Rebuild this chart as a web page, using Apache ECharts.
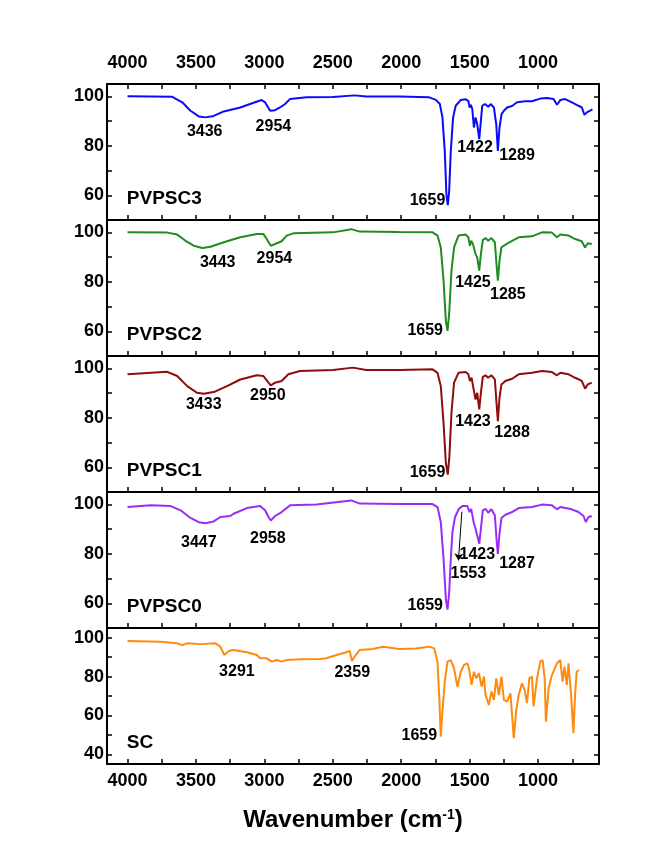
<!DOCTYPE html>
<html>
<head>
<meta charset="utf-8">
<script src="https://cdn.jsdelivr.net/npm/echarts@6/dist/echarts.min.js"></script>
<style>
  html, body { margin: 0; padding: 0; background: #fff; }
  #chart { width: 647px; height: 841px; }
</style>
</head>
<body>
<div id="chart"></div>
<script>
  // spectra, [wavenumber, transmittance %]
  const pvpsc3 = [[4000, 100], [3673, 99.8], [3600, 97.6], [3540, 94.2], [3479, 91.9], [3431, 91.5], [3370, 92.1], [3297, 93.9], [3176, 95.5], [3079, 97.4], [3019, 98.5], [2995, 97.6], [2958, 94.2], [2922, 94.4], [2886, 95.5], [2849, 96.9], [2813, 98.9], [2692, 99.6], [2498, 99.7], [2341, 100.4], [2256, 99.9], [2014, 99.9], [1796, 99.6], [1747, 98.6], [1718, 96.9], [1699, 91.5], [1682, 77.9], [1670, 60.3], [1660, 56], [1650, 61.6], [1638, 77.9], [1621, 91.5], [1602, 96.2], [1566, 98.5], [1529, 98.8], [1510, 98.2], [1500, 95.5], [1491, 96.6], [1481, 94.9], [1469, 87.4], [1457, 91.5], [1445, 88.8], [1430, 82.7], [1418, 90.2], [1408, 96.2], [1389, 96.9], [1364, 95.8], [1347, 96.9], [1323, 95.5], [1306, 88.8], [1294, 77.9], [1282, 87.4], [1267, 92.8], [1250, 94.2], [1226, 95.5], [1190, 96.1], [1154, 97.6], [1093, 98.0], [1045, 98.0], [984, 99.1], [935, 99.3], [887, 98.9], [862, 96.6], [838, 98.5], [802, 98.9], [753, 97.6], [705, 96.2], [680, 95.5], [661, 92.5], [644, 93.5], [620, 94.2], [603, 94.7]]
  const pvpsc2 = [[4000, 100], [3709, 99.9], [3637, 99.1], [3576, 96.6], [3516, 94.6], [3455, 93.7], [3394, 94.2], [3297, 96.0], [3176, 98.0], [3055, 99.3], [3007, 99.3], [2983, 97.3], [2953, 94.6], [2922, 95.3], [2874, 96.4], [2837, 98.7], [2789, 99.6], [2498, 100], [2365, 101.3], [2304, 100.3], [2014, 100.1], [1771, 100], [1735, 98.7], [1711, 93.9], [1691, 80.5], [1674, 64.3], [1662, 60.2], [1650, 67], [1633, 84.5], [1614, 93.9], [1582, 98.7], [1529, 99.1], [1510, 98], [1498, 94.6], [1489, 96.6], [1476, 95.3], [1457, 91.2], [1445, 89.9], [1430, 84.5], [1418, 91.2], [1404, 96.9], [1384, 97.7], [1365, 96.6], [1341, 97.7], [1316, 96], [1304, 87.2], [1294, 80.5], [1282, 88.5], [1268, 93.9], [1239, 95], [1190, 96.6], [1142, 98], [1045, 98.4], [972, 100], [899, 99.9], [862, 98], [838, 99.1], [777, 98.7], [729, 97.3], [681, 96.4], [657, 93.9], [637, 95.6], [608, 95.3]]
  const pvpsc1 = [[4000, 97.6], [3709, 98.6], [3637, 96.9], [3564, 92.8], [3491, 90.1], [3443, 89.7], [3370, 90.4], [3273, 92.8], [3176, 95.5], [3055, 97.2], [3007, 96.9], [2970, 94.2], [2953, 93.1], [2922, 94.2], [2874, 94.9], [2825, 97.6], [2740, 98.9], [2498, 99.3], [2353, 100.3], [2256, 99.3], [2014, 99.3], [1771, 99.6], [1735, 98.2], [1711, 92.8], [1691, 78], [1674, 61.8], [1660, 57], [1648, 64.5], [1633, 82], [1614, 94.2], [1582, 98.2], [1529, 98.5], [1510, 97.6], [1498, 94.9], [1486, 96.2], [1471, 91.5], [1457, 87.4], [1445, 90.1], [1430, 83.4], [1418, 90.1], [1404, 96.6], [1384, 97.2], [1365, 96.2], [1341, 97.2], [1316, 95.5], [1304, 86.1], [1294, 78.6], [1282, 88.1], [1268, 93.5], [1239, 94.9], [1190, 95.8], [1142, 97.6], [1045, 98.2], [972, 98.9], [899, 98.5], [862, 97.2], [838, 98.2], [777, 97.6], [729, 96.2], [681, 94.9], [657, 91.8], [637, 93.5], [608, 94.2]]
  const pvpsc0 = [[4000, 98.9], [3830, 99.6], [3685, 99.3], [3612, 97.6], [3540, 94.5], [3479, 92.8], [3431, 92.4], [3370, 93.1], [3322, 94.9], [3249, 95.3], [3225, 96.2], [3128, 98.5], [3031, 99.3], [2995, 97.6], [2970, 94.9], [2953, 93.5], [2922, 95.3], [2874, 96.9], [2813, 99.6], [2619, 99.9], [2365, 101.6], [2304, 100.3], [2014, 100.1], [1771, 100.1], [1735, 98.9], [1711, 92.8], [1691, 78], [1674, 61.8], [1662, 57.4], [1650, 64.1], [1638, 78], [1626, 88.8], [1607, 94.9], [1590, 96.9], [1578, 98.2], [1553, 99.3], [1517, 99.3], [1500, 96.9], [1489, 98.2], [1471, 92.8], [1457, 90.1], [1445, 90.8], [1430, 84.1], [1418, 90.1], [1404, 97.6], [1384, 98.2], [1365, 96.6], [1341, 98], [1316, 95.5], [1304, 86.1], [1294, 80], [1282, 88.1], [1268, 94.5], [1239, 95.8], [1190, 96.9], [1142, 98.5], [1045, 98.9], [972, 99.9], [899, 99.6], [862, 98], [838, 98.9], [753, 98], [705, 96.9], [668, 95.3], [651, 92.8], [632, 94.9], [608, 95.3]]
  const sc = [[4000, 98.3], [3758, 97.9], [3637, 97.1], [3600, 96.2], [3564, 97.1], [3467, 96.7], [3358, 97.1], [3322, 95.4], [3293, 91.1], [3261, 93.2], [3225, 93.7], [3128, 92.5], [3055, 91.1], [3031, 89.4], [2983, 89.4], [2946, 87.7], [2910, 88.5], [2874, 87.7], [2837, 88.5], [2740, 88.9], [2595, 89.0], [2547, 89.4], [2474, 91.1], [2401, 92.5], [2377, 93.2], [2360, 88.0], [2341, 90.2], [2304, 93.7], [2208, 94.2], [2135, 95.4], [2014, 94.2], [1892, 94.5], [1796, 95.4], [1759, 94.5], [1735, 87.7], [1723, 70.5], [1711, 49.1], [1699, 62], [1682, 77.4], [1662, 87.7], [1638, 88.5], [1614, 84.2], [1590, 74.8], [1565, 82.5], [1541, 86], [1517, 86.8], [1505, 84.2], [1486, 75.7], [1469, 82.5], [1452, 79.1], [1432, 81.7], [1413, 74.8], [1396, 80], [1384, 70.5], [1360, 65.4], [1341, 72.3], [1323, 68], [1306, 79.1], [1287, 70.5], [1268, 80], [1250, 68], [1226, 67.1], [1202, 71.4], [1178, 48.3], [1161, 62], [1142, 70.5], [1118, 76.5], [1099, 73.1], [1081, 66.3], [1064, 79.1], [1045, 80], [1033, 64.6], [1008, 79.1], [984, 87.7], [967, 88.5], [952, 79.1], [943, 56.8], [923, 74], [899, 80.8], [863, 86.8], [838, 88.5], [821, 77.4], [807, 85.1], [790, 75.7], [778, 86.8], [759, 70.5], [742, 50.9], [730, 70.5], [718, 82.5], [701, 83.4]]

  // peak labels: [text, wavenumber, transmittance]
  const peaks3 = [['3436', 3436, 85.6], ['2954', 2934, 87.8], ['1659', 1808, 57.9], ['1422', 1461, 79.3], ['1289', 1154, 75.9]]
  const peaks2 = [['3443', 3341, 87.6], ['2954', 2927, 89.2], ['1659', 1825, 60.2], ['1425', 1476, 79.6], ['1285', 1221, 74.8]]
  const peaks1 = [['3433', 3443, 85.4], ['2950', 2975, 89.1], ['1659', 1808, 57.7], ['1423', 1476, 78.6], ['1288', 1190, 74.2]]
  const peaks0 = [['3447', 3479, 84.5], ['2958', 2975, 86.1], ['1659', 1825, 59], ['1423', 1444, 79.6], ['1553', 1510, 71.9], ['1287', 1154, 76.1]]
  const peaksSc = [['3291', 3201, 82.5], ['2359', 2358, 82.2], ['1659', 1868, 49.7]]
  const arrow0 = [[1557, 97], [1582, 77.3]]

  const sampleNames = ['PVPSC3', 'PVPSC2', 'PVPSC1', 'PVPSC0', 'SC']
  const xTicks = [4000, 3750, 3500, 3250, 3000, 2750, 2500, 2250, 2000, 1750, 1500, 1250, 1000, 750]
  const xLabels = [4000, 3500, 3000, 2500, 2000, 1500, 1000]
  const yTicks = [60, 70, 80, 90, 100]
  const yLabels = [60, 80, 100]
  const yTicksSc = [40, 50, 60, 70, 80, 90, 100]
  const yLabelsSc = [40, 60, 80, 100]

  const font = '"Liberation Sans", Arial, sans-serif'
  const panels = [
    { data: pvpsc3, peaks: peaks3, color: '#0a0aff', min: 50 },
    { data: pvpsc2, peaks: peaks2, color: '#1e8c1e', min: 50 },
    { data: pvpsc1, peaks: peaks1, color: '#8e0c0c', min: 50 },
    { data: pvpsc0, peaks: peaks0, color: '#9a2cf5', min: 50 },
    { data: sc, peaks: peaksSc, color: '#ff8a10', min: 35 }
  ]

  const chart = echarts.init(document.getElementById('chart'), null, { renderer: 'canvas' })
  const grid = []
  const xAxis = []
  const yAxis = []
  const series = []
  const lineStyle = { color: '#000', width: 2 }
  const tick = { inside: true, length: 5, lineStyle: { color: '#000', width: 1.5 } }
  const labelStyle = {
    color: '#000', fontSize: 18, fontWeight: 'bold', fontFamily: font,
    formatter: v => String(v)
  }

  panels.forEach((p, i) => {
    const last = i === panels.length - 1
    grid.push({ left: 107, right: 48, top: 84 + i * 136, height: 136 })
    xAxis.push({
      type: 'value', gridIndex: i, position: 'bottom', inverse: true,
      min: 555, max: 4150,
      axisLine: { lineStyle },
      axisTick: Object.assign({ customValues: xTicks }, tick),
      axisLabel: Object.assign({ show: last, margin: 8, customValues: xLabels }, labelStyle),
      splitLine: { show: false },
      name: last ? '{t|Wavenumber (cm}{s|-1}{t|)}' : '',
      nameLocation: 'middle',
      nameGap: 44,
      nameTextStyle: {
        rich: {
          t: { fontSize: 24, fontWeight: 'bold', fontFamily: font, color: '#000' },
          s: { fontSize: 14, fontWeight: 'bold', fontFamily: font, color: '#000', verticalAlign: 'top' }
        }
      }
    })
    const ticks = last ? yTicksSc : yTicks
    const labels = last ? yLabelsSc : yLabels
    yAxis.push({
      type: 'value', gridIndex: i, position: 'left', min: p.min, max: 105,
      axisLine: { show: true, lineStyle },
      axisTick: Object.assign({ customValues: ticks }, tick),
      axisLabel: Object.assign({ margin: 3, customValues: labels }, labelStyle),
      splitLine: { show: false }
    })
    yAxis.push({
      type: 'value', gridIndex: i, position: 'right', min: p.min, max: 105,
      axisLine: { show: true, lineStyle },
      axisTick: Object.assign({ customValues: ticks }, tick),
      axisLabel: { show: false },
      splitLine: { show: false }
    })
    const line = {
      type: 'line', xAxisIndex: i, yAxisIndex: 2 * i,
      data: p.data, showSymbol: false, symbol: 'none',
      lineStyle: { color: p.color, width: 2 },
      itemStyle: { color: p.color },
      silent: true
    }
    if (i === 3) {
      line.markLine = {
        silent: true, symbol: ['none', 'arrow'], symbolSize: 7,
        lineStyle: { color: '#000', width: 1, type: 'solid' },
        label: { show: false },
        data: [[{ coord: arrow0[0] }, { coord: arrow0[1] }]]
      }
    }
    series.push(line)
    const marks = p.peaks.map(pk => ({ name: pk[0], value: [pk[1], pk[2]] }))
    marks.push({
      name: sampleNames[i], value: [4005, p.min === 35 ? 45.7 : 58.4],
      label: { align: 'left', fontSize: 19 }
    })
    series.push({
      type: 'scatter', xAxisIndex: i, yAxisIndex: 2 * i,
      data: marks, symbolSize: 0, itemStyle: { color: '#000', opacity: 1 },
      silent: true,
      label: {
        show: true, position: [0, 0], align: 'center', verticalAlign: 'middle',
        formatter: '{b}', color: '#000', fontSize: 16, fontWeight: 'bold', fontFamily: font,
        textBorderWidth: 0
      }
    })
  })

  // top axis of the first panel
  xAxis.push({
    type: 'value', gridIndex: 0, position: 'top', inverse: true,
    min: 555, max: 4150,
    axisLine: { lineStyle },
    axisTick: Object.assign({ customValues: xTicks }, tick),
    axisLabel: Object.assign({ margin: 12, customValues: xLabels }, labelStyle),
    splitLine: { show: false }
  })

  chart.setOption({
    animation: false,
    backgroundColor: '#fff',
    grid: grid,
    xAxis: xAxis,
    yAxis: yAxis,
    series: series
  })
</script>
</body>
</html>
